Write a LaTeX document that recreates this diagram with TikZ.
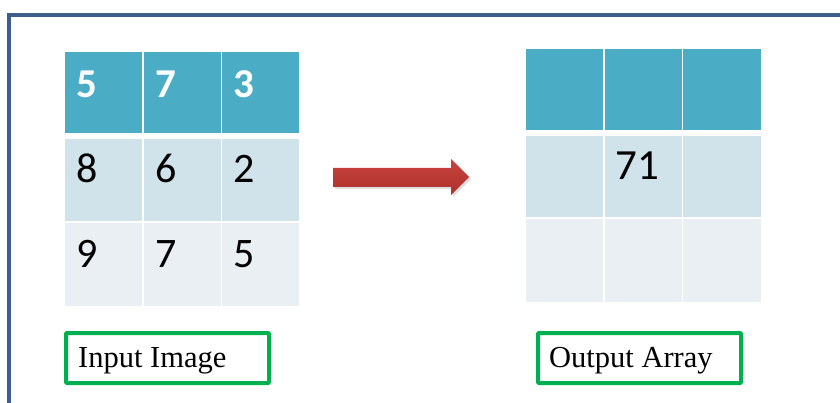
\documentclass[tikz,border=0pt]{standalone}
\usepackage{fontspec}
\setmainfont{Liberation Serif}
\newfontfamily\numfont{Carlito}
\definecolor{framec}{HTML}{3E5F8C}
\definecolor{headc}{HTML}{4BACC6}
\definecolor{rowtwo}{HTML}{D0E3EA}
\definecolor{rowthree}{HTML}{E9EFF3}
\definecolor{labelgreen}{HTML}{00B050}
\definecolor{arrowtop}{HTML}{C9433E}
\definecolor{arrowbot}{HTML}{AE302C}
\begin{document}
\begin{tikzpicture}[x=1pt,y=-1pt,
  cell/.style={rectangle, inner sep=0pt, outer sep=0pt, anchor=north west,
    minimum width=77pt},
  headcell/.style={cell, fill=headc},
  midcell/.style={cell, fill=rowtwo},
  lowcell/.style={cell, fill=rowthree},
  digit/.style={inner sep=0pt, anchor=base west,
    font=\numfont\fontsize{42}{42}\selectfont},
  headdigit/.style={digit, text=white,
    font=\numfont\bfseries\fontsize{41}{41}\selectfont},
  labelbox/.style={draw=labelgreen, line width=4pt, rounded corners=1pt,
    rectangle, inner sep=0pt, anchor=north west, minimum height=50pt},
  labeltext/.style={inner sep=0pt, anchor=base west,
    font=\fontsize{30.5}{30.5}\selectfont},
  frameline/.style={draw=framec, line width=3.5pt}
]
\useasboundingbox (0,0) rectangle (840,403);

% outer frame (top and left edges)
\draw[frameline] (9,405) -- (9,15) -- (845,15);

% input grid
\node[headcell, minimum height=81pt] (i11) at (65,52) {};
\node[headcell, minimum height=81pt] (i12) at (144,52) {};
\node[headcell, minimum height=81pt] (i13) at (222,52) {};
\node[midcell, minimum height=82pt] (i21) at (65,139) {};
\node[midcell, minimum height=82pt] (i22) at (144,139) {};
\node[midcell, minimum height=82pt] (i23) at (222,139) {};
\node[lowcell, minimum height=83pt] (i31) at (65,223) {};
\node[lowcell, minimum height=83pt] (i32) at (144,223) {};
\node[lowcell, minimum height=83pt] (i33) at (222,223) {};

\node[headdigit] (v11) at (76,98) {5};
\node[headdigit] (v12) at (155,98) {7};
\node[headdigit] (v13) at (233,98) {3};
\node[digit] (v21) at (76,183) {8};
\node[digit] (v22) at (155,183) {6};
\node[digit] (v23) at (233,183) {2};
\node[digit] (v31) at (76,268) {9};
\node[digit] (v32) at (155,268) {7};
\node[digit] (v33) at (233,268) {5};

% output grid
\node[headcell, minimum height=81pt] (o11) at (526,49) {};
\node[headcell, minimum height=81pt] (o12) at (605,49) {};
\node[headcell, minimum height=81pt, minimum width=78pt] (o13) at (683,49) {};
\node[midcell, minimum height=81pt] (o21) at (526,136) {};
\node[midcell, minimum height=81pt] (o22) at (605,136) {};
\node[midcell, minimum height=81pt, minimum width=78pt] (o23) at (683,136) {};
\node[lowcell, minimum height=83pt] (o31) at (526,219) {};
\node[lowcell, minimum height=83pt] (o32) at (605,219) {};
\node[lowcell, minimum height=83pt, minimum width=78pt] (o33) at (683,219) {};

\node[digit, font=\numfont\fontsize{43}{43}\selectfont] (w22) at (615,180) {71};

% block arrow between the grids
\fill[gray, opacity=0.25]
  (335,170) -- (453,170) -- (453,161) -- (471,179) -- (453,197)
  -- (453,189) -- (335,189) -- cycle;
\shade[top color=arrowtop, bottom color=arrowbot]
  (333,168) -- (451,168) -- (451,159) -- (469,177) -- (451,195)
  -- (451,187) -- (333,187) -- cycle;

% captions
\node[labelbox, minimum width=203pt] (inbox) at (64,331) {};
\node[labeltext] (intext) at (78,367) {Input Image};
\node[labelbox, minimum width=203pt] (outbox) at (536,331) {};
\node[labeltext] (outtext) at (549,367) {Output Array};
\end{tikzpicture}
\end{document}
